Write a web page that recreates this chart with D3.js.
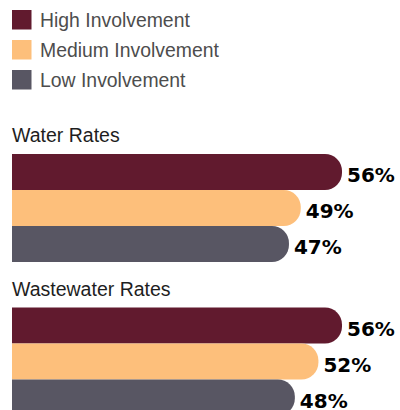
<!DOCTYPE html>
<html><head><meta charset="utf-8">
<script src="https://cdn.jsdelivr.net/npm/d3@7"></script>
<style>html,body{margin:0;padding:0;background:#fff;}svg{display:block;}</style>
</head><body>
<svg id="chart" width="400" height="410"></svg>
<script>
const categories = ["Water Rates", "Wastewater Rates"];
const seriesNames = ["High Involvement", "Medium Involvement", "Low Involvement"];
const highValues = [56, 56];
const mediumValues = [49, 52];
const lowValues = [47, 48];
const valueLabels = [["56%", "49%", "47%"], ["56%", "52%", "48%"]];
const colors = ["#611a2e", "#fdbf7b", "#585663"];

const svg = d3.select("#chart");
const series = [highValues, mediumValues, lowValues];

const x = d3.scaleLinear().domain([0, 56]).range([12, 342]);
const groupY = d3.scaleLinear().domain([0, 1]).range([154, 307.5]);
const barY = d3.scaleBand().domain(seriesNames).range([0, 108]).padding(0);
const legendY = d3.scaleBand().domain(seriesNames).range([10, 100]);

// legend
const leg = svg.append("g");
seriesNames.forEach((s, i) => {
  leg.append("rect").attr("x", 12).attr("y", legendY(s)).attr("width", 19.5).attr("height", 19.5).attr("fill", colors[i]);
  leg.append("text").attr("x", 40).attr("y", legendY(s) + 16.5)
    .attr("font-family", "Liberation Sans, Arial, sans-serif").attr("font-size", 19.4).attr("fill", "#4d4d4d").text(s);
});

function barPath(x0, y0, w, h, r) {
  r = Math.min(r, w, h / 2);
  return `M${x0},${y0}H${x0 + w - r}A${r},${r} 0 0 1 ${x0 + w},${y0 + r}V${y0 + h - r}A${r},${r} 0 0 1 ${x0 + w - r},${y0 + h}H${x0}Z`;
}

categories.forEach((c, gi) => {
  const g = svg.append("g").attr("transform", `translate(0,${groupY(gi)})`);
  g.append("text").attr("x", 12).attr("y", -12)
    .attr("font-family", "Liberation Sans, Arial, sans-serif").attr("font-size", 19.5).attr("fill", "#1e1e1e").text(c);
  seriesNames.forEach((s, si) => {
    const v = series[si][gi];
    const y0 = barY(s), h = barY.bandwidth();
    g.append("path").attr("d", barPath(x(0), y0, x(v) - x(0), h, 17)).attr("fill", colors[si]);
    g.append("text").attr("x", x(v) + 5).attr("y", y0 + h / 2 + 10)
      .attr("font-family", "DejaVu Sans").attr("font-weight", "bold").attr("font-size", 20)
      .attr("fill", "#000").text(valueLabels[gi][si]);
  });
});
</script>
</body></html>
